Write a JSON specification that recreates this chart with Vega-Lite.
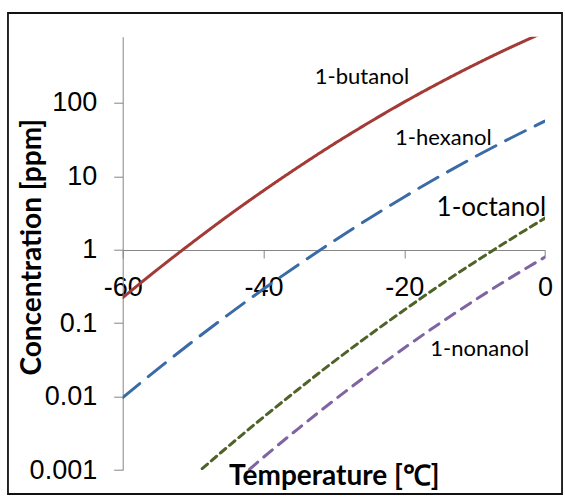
{
  "$schema": "https://vega.github.io/schema/vega-lite/v6.json",
  "autosize": "none",
  "width": 422.3,
  "height": 433.3,
  "padding": {"left": 122.7, "top": 36.7, "right": 20, "bottom": 27},
  "background": "white",
  "config": {"view": {"stroke": null}},
  "datasets": {
    "curves": [
      {"series": "1-butanol", "T": -60, "C": 0.223},
      {"series": "1-butanol", "T": -55, "C": 0.545},
      {"series": "1-butanol", "T": -50, "C": 1.28},
      {"series": "1-butanol", "T": -45, "C": 2.92},
      {"series": "1-butanol", "T": -40, "C": 6.39},
      {"series": "1-butanol", "T": -35, "C": 13.5},
      {"series": "1-butanol", "T": -30, "C": 27.6},
      {"series": "1-butanol", "T": -25, "C": 54.2},
      {"series": "1-butanol", "T": -20, "C": 103},
      {"series": "1-butanol", "T": -15, "C": 188},
      {"series": "1-butanol", "T": -10, "C": 332},
      {"series": "1-butanol", "T": -5, "C": 566},
      {"series": "1-butanol", "T": 0, "C": 931},
      {"series": "1-hexanol", "T": -60, "C": 0.0097},
      {"series": "1-hexanol", "T": -55, "C": 0.0239},
      {"series": "1-hexanol", "T": -50, "C": 0.0568},
      {"series": "1-hexanol", "T": -45, "C": 0.131},
      {"series": "1-hexanol", "T": -40, "C": 0.292},
      {"series": "1-hexanol", "T": -35, "C": 0.630},
      {"series": "1-hexanol", "T": -30, "C": 1.32},
      {"series": "1-hexanol", "T": -25, "C": 2.67},
      {"series": "1-hexanol", "T": -20, "C": 5.25},
      {"series": "1-hexanol", "T": -15, "C": 9.99},
      {"series": "1-hexanol", "T": -10, "C": 18.4},
      {"series": "1-hexanol", "T": -5, "C": 32.8},
      {"series": "1-hexanol", "T": 0, "C": 56.8},
      {"series": "1-octanol", "T": -50, "C": 0.000815},
      {"series": "1-octanol", "T": -45, "C": 0.0021},
      {"series": "1-octanol", "T": -40, "C": 0.00525},
      {"series": "1-octanol", "T": -35, "C": 0.0127},
      {"series": "1-octanol", "T": -30, "C": 0.030},
      {"series": "1-octanol", "T": -25, "C": 0.0684},
      {"series": "1-octanol", "T": -20, "C": 0.151},
      {"series": "1-octanol", "T": -15, "C": 0.326},
      {"series": "1-octanol", "T": -10, "C": 0.679},
      {"series": "1-octanol", "T": -5, "C": 1.37},
      {"series": "1-octanol", "T": 0, "C": 2.7},
      {"series": "1-nonanol", "T": -42, "C": 0.00102},
      {"series": "1-nonanol", "T": -40, "C": 0.00149},
      {"series": "1-nonanol", "T": -35, "C": 0.0037},
      {"series": "1-nonanol", "T": -30, "C": 0.00887},
      {"series": "1-nonanol", "T": -25, "C": 0.0205},
      {"series": "1-nonanol", "T": -20, "C": 0.0459},
      {"series": "1-nonanol", "T": -15, "C": 0.0988},
      {"series": "1-nonanol", "T": -10, "C": 0.205},
      {"series": "1-nonanol", "T": -5, "C": 0.411},
      {"series": "1-nonanol", "T": 0, "C": 0.795}
    ],
    "labels": [
      {"label": "1-butanol", "T": -32.7, "C": 181},
      {"label": "1-hexanol", "T": -21.3, "C": 26.8},
      {"label": "1-octanol", "T": -15.4, "C": 2.9},
      {"label": "1-nonanol", "T": -16.3, "C": 0.0361}
    ],
    "frame": [
      {"T0": -76.3, "T1": 2.42, "C0": 0.000471, "C1": 1683}
    ]
  },
  "layer": [
    {
      "data": {"name": "frame"},
      "mark": {"type": "rect", "fill": null, "stroke": "#111111", "strokeWidth": 1.8, "clip": false},
      "encoding": {
        "x": {"field": "T0", "type": "quantitative", "scale": {"domain": [-60, 0], "nice": false, "zero": false}},
        "x2": {"field": "T1"},
        "y": {"field": "C0", "type": "quantitative", "scale": {"type": "log", "domain": [0.001, 800], "nice": false}},
        "y2": {"field": "C1"}
      }
    },
    {
      "data": {"name": "curves"},
      "mark": {"type": "line", "strokeWidth": 3, "clip": true, "strokeCap": "round", "interpolate": "monotone"},
      "encoding": {
        "x": {
          "field": "T", "type": "quantitative",
          "scale": {"domain": [-60, 0], "nice": false, "zero": false},
          "axis": {
            "values": [-60, -40, -20, 0],
            "labelExpr": "'' + datum.value",
            "offset": -220,
            "grid": false,
            "domainColor": "#868686",
            "tickColor": "#868686",
            "tickSize": 8,
            "labelFont": "Liberation Sans",
            "labelFontSize": 27,
            "labelColor": "#000000",
            "labelPadding": 16,
            "labelFlush": false,
            "labelOverlap": false,
            "title": "Temperature [℃]",
            "titleFont": "Lato",
            "titleFontWeight": "bold",
            "titleFontSize": 28,
            "titleColor": "#000000",
            "titleBaseline": "alphabetic",
            "titleY": 234
          }
        },
        "y": {
          "field": "C", "type": "quantitative",
          "scale": {"type": "log", "domain": [0.001, 800], "nice": false},
          "axis": {
            "values": [0.001, 0.01, 0.1, 1, 10, 100],
            "labelExpr": "'' + datum.value",
            "grid": false,
            "domainColor": "#868686",
            "tickColor": "#868686",
            "tickSize": 9,
            "labelFont": "Liberation Sans",
            "labelFontSize": 27,
            "labelColor": "#000000",
            "labelPadding": 17,
            "labelOverlap": false,
            "labelFlush": false,
            "title": "Concentration [ppm]",
            "titleFont": "Lato",
            "titleFontWeight": "bold",
            "titleFontSize": 28,
            "titleColor": "#000000",
            "titleAngle": -90,
            "titleBaseline": "middle",
            "titleAlign": "center",
            "titleX": -90,
            "titleY": 210
          }
        },
        "color": {
          "field": "series", "type": "nominal",
          "scale": {"domain": ["1-butanol", "1-hexanol", "1-octanol", "1-nonanol"], "range": ["#A33A36", "#3A6BA6", "#4F6228", "#8064A2"]},
          "legend": null
        },
        "strokeDash": {
          "field": "series", "type": "nominal",
          "scale": {"domain": ["1-butanol", "1-hexanol", "1-octanol", "1-nonanol"], "range": [[1, 0], [22, 11], [7, 5], [11, 8]]},
          "legend": null
        },
        "order": {"field": "T", "type": "quantitative"}
      }
    },
    {
      "data": {"name": "labels"},
      "mark": {"type": "text", "font": "Lato", "align": "left", "baseline": "alphabetic", "color": "#000000"},
      "encoding": {
        "x": {"field": "T", "type": "quantitative"},
        "y": {"field": "C", "type": "quantitative"},
        "text": {"field": "label"},
        "size": {
          "field": "label", "type": "nominal",
          "scale": {"type": "ordinal", "domain": ["1-butanol", "1-hexanol", "1-octanol", "1-nonanol"], "range": [22, 22, 26, 22]},
          "legend": null
        }
      }
    }
  ]
}
